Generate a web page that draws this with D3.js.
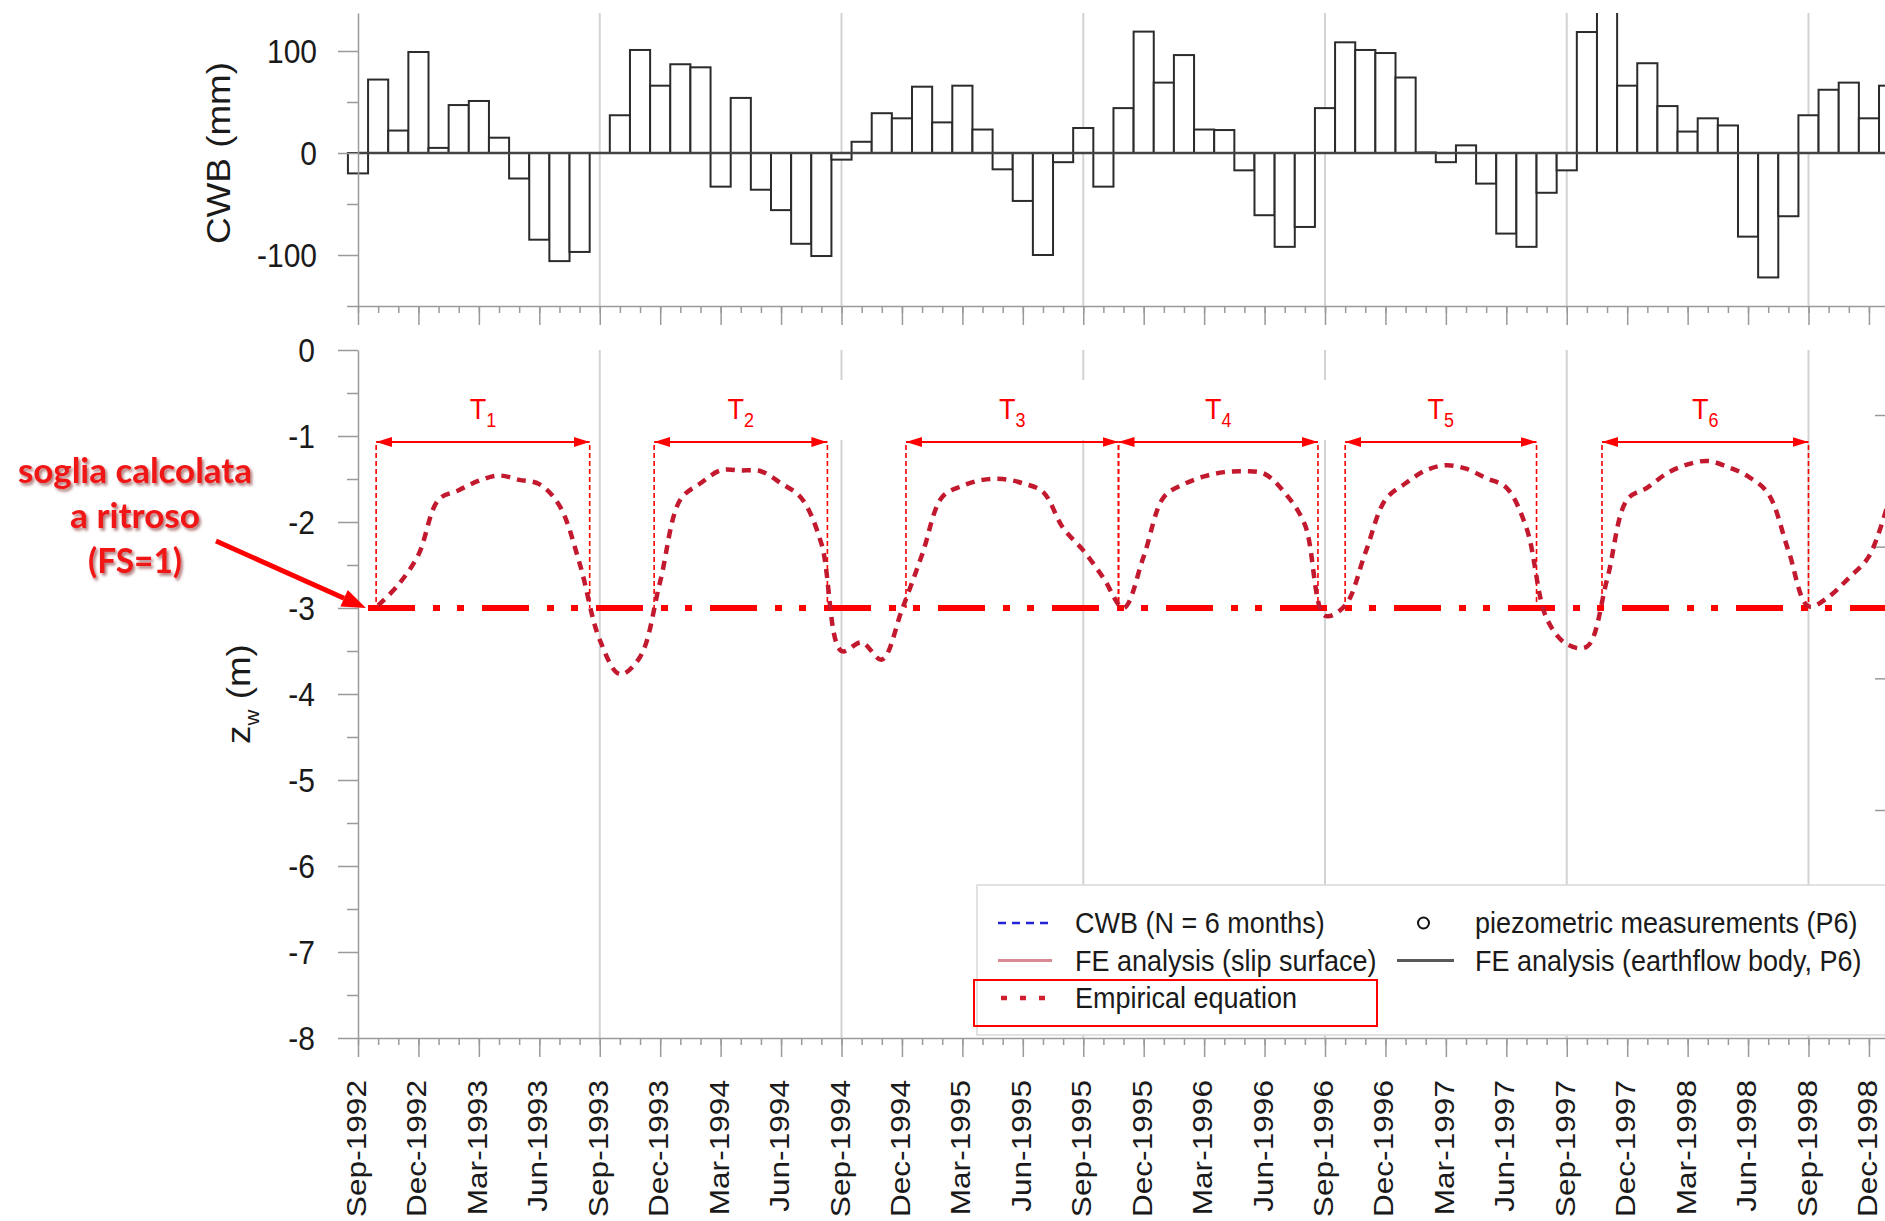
<!DOCTYPE html>
<html>
<head>
<meta charset="utf-8">
<script src="https://cdn.jsdelivr.net/npm/d3@7"></script>
<style>
  html, body { margin: 0; padding: 0; background: #fff; }
  svg { display: block; }
</style>
</head>
<body>
<svg id="chart" width="1885" height="1221"></svg>
<script>
// ---- data -------------------------------------------------------------
// Monthly climatic water balance (mm), one value per month from Sep-1992
const cwbValues = [
  -20, 72, 22, 99, 5, 47, 51, 15, -25, -85, -106, -97,
  0, 37, 101, 66, 87, 84, -33, 54, -36, -56, -89, -101,
  -6.5, 11, 39, 34, 65, 30, 66, 23, -16, -47, -100, -9,
  24.5, -33, 44, 119, 69, 96, 23, 22.5, -17, -61, -92, -72.5,
  44, 108.5, 101, 98, 74, 0.5, -9, 7.5, -30, -79, -92, -39,
  -17, 118.6, 185, 66, 88, 46, 21, 34, 27, -82, -122, -62,
  37, 62, 69, 34, 66
];

// Empirical equation: depth of the water table zw (m), monthly from Oct-1992
const zwFirstMonth = 1;
const zwValues = [
  -2.97, -2.73, -2.38, -1.74, -1.63, -1.52, -1.46, -1.51, -1.56, -1.81, -2.48,
  -3.37, -3.77, -3.57, -2.69, -1.74, -1.55, -1.40, -1.40, -1.41, -1.55, -1.72, -2.25,
  -3.50, -3.40, -3.60, -3.02, -2.38, -1.71, -1.58, -1.51, -1.50, -1.55, -1.65, -2.07,
  -2.33, -2.65, -3.00, -2.40, -1.71, -1.56, -1.47, -1.42, -1.41, -1.44, -1.66, -2.03,
  -3.09, -2.97, -2.36, -1.74, -1.55, -1.40, -1.34, -1.38, -1.49, -1.60, -2.07, -3.12,
  -3.42, -3.45, -2.67, -1.74, -1.60, -1.43, -1.33, -1.29, -1.36, -1.47, -1.67, -2.33,
  -2.98, -2.87, -2.65, -2.40, -1.74
];

// Back-calculated threshold (FS = 1)
const thresholdZw = -3;

// Periods with zw above the threshold (months from Sep-1992)
const periodNames = ["1", "2", "3", "4", "5", "6"];
const periodStart = [0.9, 14.7, 27.2, 37.75, 49.0, 61.75];
const periodEnd   = [11.5, 23.3, 37.75, 47.65, 58.5, 72.0];

// Axis ticks
const cwbMajorTicks = [-100, 0, 100];
const cwbMinorTicks = [-150, -50, 50];
const zwMajorTicks = [0, -1, -2, -3, -4, -5, -6, -7, -8];
const zwMinorTicks = [-0.5, -1.5, -2.5, -3.5, -4.5, -5.5, -6.5, -7.5];
const monthTicks = d3.range(0, 78);
const quarterTicks = d3.range(0, 78, 3);
const yearTicks = [12, 24, 36, 48, 60, 72];
const auxTicks = [0, 1, 2, 3];

// Legend
const legendItems = [
  { label: "CWB (N = 6 months)", kind: "dash", color: "#2323d8", col: 0, row: 0 },
  { label: "piezometric measurements (P6)", kind: "circle", color: "#111", col: 1, row: 0 },
  { label: "FE analysis (slip surface)", kind: "line", color: "#d98a93", col: 0, row: 1 },
  { label: "FE analysis (earthflow body, P6)", kind: "line", color: "#5a5a5a", col: 1, row: 1 },
  { label: "Empirical equation", kind: "dots", color: "#cf1f2f", col: 0, row: 2 }
];

const noteLines = ["soglia calcolata", "a ritroso", "(FS=1)"];

// ---- setup ------------------------------------------------------------
const W = 1885, H = 1221;
const FONT = "'Liberation Sans', Arial, Helvetica, sans-serif";
const SY = 1.1;               // text is drawn slightly tall
const startDate = new Date(1992, 8, 1);
const monthLabel = i => d3.timeFormat("%b-%Y")(d3.timeMonth.offset(startDate, i));

const svg = d3.select("#chart");
const defs = svg.append("defs");

const x0 = d3.scaleLinear().domain([0, 72]).range([358, 1808.5]);
const x = x0.copy().domain([0, x0.invert(W)]).range([358, W]);
const yTop = d3.scaleLinear().domain([-150, 137.25]).range([306, 13]);
const yBot = d3.scaleLinear().domain([-8, 0]).range([1038, 350]);

defs.append("clipPath").attr("id", "clipTop")
  .append("rect").attr("x", 0).attr("y", yTop.range()[1]).attr("width", W).attr("height", H);

defs.append("filter").attr("id", "shadow")
  .attr("x", "-10%").attr("y", "-20%").attr("width", "130%").attr("height", "160%")
  .append("feDropShadow")
  .attr("dx", 2).attr("dy", 2.5).attr("stdDeviation", 1.6)
  .attr("flood-color", "#6a0000").attr("flood-opacity", 0.55);

defs.append("marker").attr("id", "arrowHead")
  .attr("viewBox", "0 0 16 10").attr("refX", 16).attr("refY", 5)
  .attr("markerUnits", "userSpaceOnUse")
  .attr("markerWidth", 16).attr("markerHeight", 10)
  .attr("orient", "auto-start-reverse")
  .append("path").attr("d", "M0,0 L16,5 L0,10 Z").attr("fill", "#ff0000");

function styleAxis(g) {
  g.selectAll(".domain, .tick line").attr("stroke", "#9a9a9a").attr("stroke-width", 1.5);
  g.selectAll("text").attr("fill", "#1a1a1a").attr("font-family", FONT);
}

// ---- gridlines (September of each year) --------------------------------
const grid = svg.append("g").attr("stroke", "#d3d3d3").attr("stroke-width", 2);
grid.selectAll("line.gt").data(yearTicks).join("line").attr("class", "gt")
  .attr("x1", d => x(d)).attr("x2", d => x(d))
  .attr("y1", yTop.range()[1]).attr("y2", yTop.range()[0]);
grid.selectAll("line.gb").data(yearTicks).join("line").attr("class", "gb")
  .attr("x1", d => x(d)).attr("x2", d => x(d))
  .attr("y1", yBot(0)).attr("y2", yBot(-8));

// ---- top panel: CWB bars -------------------------------------------------
const bars = svg.append("g").attr("clip-path", "url(#clipTop)");
bars.selectAll("rect").data(cwbValues).join("rect")
  .attr("x", (d, i) => x(i - 0.5))
  .attr("width", (d, i) => x(i + 0.5) - x(i - 0.5))
  .attr("y", d => yTop(Math.max(0, d)))
  .attr("height", d => Math.abs(yTop(d) - yTop(0)))
  .attr("fill", "#fff").attr("stroke", "#2b2b2b").attr("stroke-width", 2);

svg.append("line")
  .attr("x1", x(0)).attr("x2", W).attr("y1", yTop(0)).attr("y2", yTop(0))
  .attr("stroke", "#444").attr("stroke-width", 2.5);

// top panel axes
const topY = svg.append("g").attr("transform", `translate(${x(0)},0)`)
  .call(d3.axisLeft(yTop).tickValues(cwbMajorTicks).tickSize(20).tickSizeOuter(0)
    .tickPadding(21).tickFormat(d => String(d)));
topY.selectAll("text").attr("font-size", 30).attr("dy", "0.36em")
  .attr("transform", `scale(1,${SY})`);
styleAxis(topY);
const topYMinor = svg.append("g").attr("transform", `translate(${x(0)},0)`)
  .call(d3.axisLeft(yTop).tickValues(cwbMinorTicks).tickSize(11).tickFormat(""));
topYMinor.select(".domain").remove();
styleAxis(topYMinor);

const topX = svg.append("g").attr("transform", `translate(0,${yTop(-150)})`)
  .call(d3.axisBottom(x).tickValues(monthTicks).tickSize(7).tickSizeOuter(0).tickFormat(""));
styleAxis(topX);
const topXQ = svg.append("g").attr("transform", `translate(0,${yTop(-150)})`)
  .call(d3.axisBottom(x).tickValues(quarterTicks).tickSize(19).tickFormat(""));
topXQ.select(".domain").remove();
styleAxis(topXQ);

svg.append("text")
  .attr("transform", `translate(230,${yTop(0)}) scale(1,${SY}) rotate(-90)`)
  .attr("text-anchor", "middle").attr("font-family", FONT).attr("font-size", 33.5)
  .attr("fill", "#1a1a1a").text("CWB (mm)");

// ---- bottom panel axes ---------------------------------------------------
const botY = svg.append("g").attr("transform", `translate(${x(0)},0)`)
  .call(d3.axisLeft(yBot).tickValues(zwMajorTicks).tickSize(20).tickSizeOuter(0)
    .tickPadding(23).tickFormat(d => String(d)));
botY.selectAll("text").attr("font-size", 30).attr("dy", "0.36em")
  .attr("transform", `scale(1,${SY})`);
styleAxis(botY);
const botYMinor = svg.append("g").attr("transform", `translate(${x(0)},0)`)
  .call(d3.axisLeft(yBot).tickValues(zwMinorTicks).tickSize(11).tickFormat(""));
botYMinor.select(".domain").remove();
styleAxis(botYMinor);

const botX = svg.append("g").attr("transform", `translate(0,${yBot(-8)})`)
  .call(d3.axisBottom(x).tickValues(monthTicks).tickSize(7).tickSizeOuter(0).tickFormat(""));
styleAxis(botX);
const botXQ = svg.append("g").attr("transform", `translate(0,${yBot(-8)})`)
  .call(d3.axisBottom(x).tickValues(quarterTicks).tickSize(19).tickFormat(monthLabel));
botXQ.select(".domain").remove();
botXQ.selectAll("text")
  .attr("x", 0).attr("y", 0).attr("dy", 0)
  .attr("text-anchor", "end").attr("font-size", 28.5)
  .attr("transform", `translate(7.5,42) scale(1,1.11) rotate(-90)`);
styleAxis(botXQ);

// short ticks of the secondary axis at the right edge
const yAux = d3.scaleLinear().domain([0, 3]).range([415, 810]);
const auxAxis = svg.append("g").attr("transform", `translate(${W + 1},0)`)
  .call(d3.axisLeft(yAux).tickValues(auxTicks).tickSize(11).tickFormat(""));
auxAxis.select(".domain").remove();
styleAxis(auxAxis);

const zLabel = svg.append("text")
  .attr("transform", `translate(250,${(yBot(0) + yBot(-8)) / 2}) scale(1,${SY}) rotate(-90)`)
  .attr("text-anchor", "middle").attr("font-family", FONT).attr("font-size", 33.5)
  .attr("fill", "#1a1a1a");
zLabel.append("tspan").text("z");
zLabel.append("tspan").attr("font-size", 20).attr("dy", 9).text("w");
zLabel.append("tspan").attr("dy", -9).text(" (m)");

// white backing behind the middle period labels
svg.append("rect").attr("x", 830).attr("y", 380).attr("width", 500).attr("height", 60)
  .attr("fill", "#fff");

// ---- legend ------------------------------------------------------------
const lg = svg.append("g");
lg.append("rect").attr("x", 977).attr("y", 885).attr("width", 1000).attr("height", 150)
  .attr("fill", "#fff").attr("stroke", "#d9d9d9").attr("stroke-width", 1.5);
const rowBase = [933, 970.5, 1008];
const colSample = [[998, 1052], [1397, 1454]];
const colText = [1075, 1475];
legendItems.forEach(it => {
  const yb = rowBase[it.row], ym = yb - 10;
  const [sx1, sx2] = colSample[it.col];
  if (it.kind === "circle") {
    lg.append("circle").attr("cx", (sx1 + sx2) / 2 - 2).attr("cy", ym).attr("r", 5.5)
      .attr("fill", "#fff").attr("stroke", it.color).attr("stroke-width", 2);
  } else {
    const l = lg.append("line").attr("x1", sx1).attr("x2", sx2).attr("y1", ym).attr("y2", ym)
      .attr("stroke", it.color);
    if (it.kind === "dash") l.attr("stroke-width", 2.5).attr("stroke-dasharray", "8,6");
    if (it.kind === "line") l.attr("stroke-width", 3);
    if (it.kind === "dots") l.attr("x1", sx1 + 3).attr("stroke-width", 4.5).attr("stroke-dasharray", "6,13");
  }
  lg.append("text")
    .attr("transform", `translate(${colText[it.col]},${yb}) scale(1,${SY})`)
    .attr("font-family", FONT).attr("font-size", 27).attr("fill", "#1a1a1a")
    .text(it.label);
});
lg.append("rect").attr("x", 974).attr("y", 980).attr("width", 403).attr("height", 46)
  .attr("fill", "none").attr("stroke", "#ff0000").attr("stroke-width", 2);

// ---- threshold and periods ----------------------------------------------
svg.append("line")
  .attr("x1", x(0)).attr("x2", W).attr("y1", yBot(thresholdZw)).attr("y2", yBot(thresholdZw))
  .attr("stroke", "#ff0000").attr("stroke-width", 6)
  .attr("stroke-dasharray", "47,18,7,17,7,18").attr("stroke-dashoffset", 104);

const arrowY = 442;
const periods = svg.append("g");
periodNames.forEach((name, k) => {
  const xa = x(periodStart[k]), xb = x(periodEnd[k]);
  [xa, xb].forEach(xv => {
    periods.append("line").attr("x1", xv).attr("x2", xv)
      .attr("y1", arrowY + 3).attr("y2", yBot(thresholdZw))
      .attr("stroke", "#ff0000").attr("stroke-width", 1.6).attr("stroke-dasharray", "5,3");
  });
  periods.append("line").attr("x1", xa).attr("x2", xb).attr("y1", arrowY).attr("y2", arrowY)
    .attr("stroke", "#ff0000").attr("stroke-width", 1.8)
    .attr("marker-start", "url(#arrowHead)").attr("marker-end", "url(#arrowHead)");
  const t = periods.append("text")
    .attr("transform", `translate(${(xa + xb) / 2},419) scale(1,${SY})`)
    .attr("text-anchor", "middle").attr("font-family", FONT).attr("font-size", 27)
    .attr("fill", "#ff0000");
  t.append("tspan").text("T");
  t.append("tspan").attr("font-size", 18).attr("dy", 7).text(name);
});

// ---- empirical equation curve ------------------------------------------
const zwLine = d3.line()
  .x((d, i) => x(zwFirstMonth + i))
  .y(d => yBot(d))
  .curve(d3.curveCatmullRom.alpha(0.5));
svg.append("path").datum(zwValues).attr("d", zwLine)
  .attr("fill", "none").attr("stroke", "#c3192f").attr("stroke-width", 4.5)
  .attr("stroke-dasharray", "9,7");

// ---- annotation on the left ----------------------------------------------
const note = svg.append("g").attr("filter", "url(#shadow)");
const noteBase = [483, 528, 573];
const noteWidth = [234, 130, 94];
noteLines.forEach((s, k) => {
  note.append("text").attr("x", 135).attr("y", noteBase[k])
    .attr("text-anchor", "middle").attr("font-family", "Lato, 'Open Sans', sans-serif")
    .attr("font-weight", 700).attr("font-size", 35).attr("fill", "#f01515")
    .attr("textLength", noteWidth[k]).attr("lengthAdjust", "spacingAndGlyphs")
    .text(s);
});
const tip = [366, yBot(thresholdZw)];
const tail = [216, 541];
const ang = Math.atan2(tip[1] - tail[1], tip[0] - tail[0]);
const headLen = 24, headHalf = 9;
const base = [tip[0] - headLen * Math.cos(ang), tip[1] - headLen * Math.sin(ang)];
svg.append("line").attr("x1", tail[0]).attr("y1", tail[1]).attr("x2", base[0]).attr("y2", base[1])
  .attr("stroke", "#ff0000").attr("stroke-width", 5);
svg.append("path")
  .attr("d", `M${tip[0]},${tip[1]}
    L${base[0] + headHalf * Math.sin(ang)},${base[1] - headHalf * Math.cos(ang)}
    L${base[0] - headHalf * Math.sin(ang)},${base[1] + headHalf * Math.cos(ang)} Z`)
  .attr("fill", "#ff0000");
</script>
</body>
</html>
